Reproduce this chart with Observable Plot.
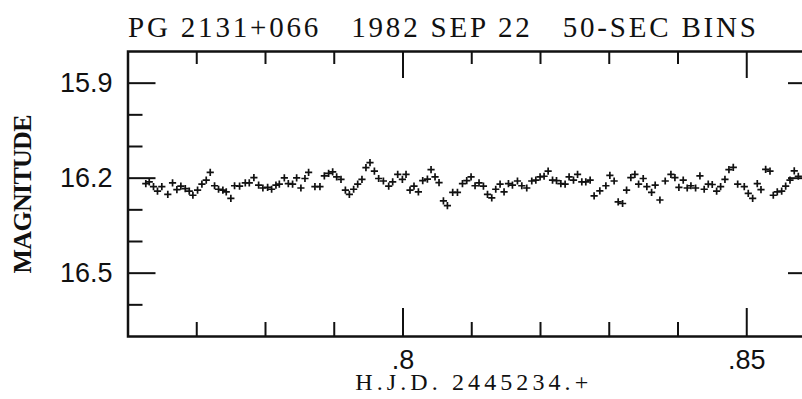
<!DOCTYPE html>
<html><head><meta charset="utf-8">
<script src="https://cdn.jsdelivr.net/npm/d3@7"></script>
<script src="https://cdn.jsdelivr.net/npm/@observablehq/plot@0.6"></script>
<style>
html,body{margin:0;padding:0;background:#fff;}
#wrap{width:802px;height:399px;overflow:hidden;position:relative;}
</style></head><body><div id="wrap"></div>
<script>
const title = "PG 2131+066   1982 SEP 22   50-SEC BINS";
const xLabel = "H.J.D. 2445234.+";
const yLabel = "MAGNITUDE";

const hjd = [
  0.76259, 0.76309, 0.76371, 0.76429, 0.76492, 0.76579, 0.76648, 0.76711, 0.76769, 0.76833,
  0.76891, 0.76944, 0.77012, 0.77075, 0.77138, 0.77196, 0.77259, 0.77317, 0.77380, 0.77429,
  0.77496, 0.77550, 0.77623, 0.77706, 0.77764, 0.77831, 0.77900, 0.77962,
  0.78031, 0.78089, 0.78152, 0.78201, 0.78274, 0.78332, 0.78394, 0.78453, 0.78515, 0.78574,
  0.78627, 0.78719, 0.78792, 0.78856, 0.78918, 0.78977, 0.79035, 0.79098, 0.79162, 0.79220,
  0.79282, 0.79341, 0.79403, 0.79461, 0.79520, 0.79584, 0.79646, 0.79715, 0.79792, 0.79850, 0.79923,
  0.79991, 0.80044, 0.80102, 0.80160, 0.80224, 0.80287, 0.80355, 0.80408, 0.80466, 0.80524,
  0.80588, 0.80646, 0.80723, 0.80792, 0.80865, 0.80927, 0.80990, 0.81048, 0.81106, 0.81170,
  0.81229, 0.81291, 0.81349, 0.81412, 0.81470, 0.81534, 0.81592, 0.81665, 0.81728, 0.81800, 0.81873,
  0.81932, 0.81994, 0.82052, 0.82111, 0.82175, 0.82233, 0.82296, 0.82358, 0.82416, 0.82480,
  0.82539, 0.82601, 0.82659, 0.82722, 0.82780, 0.82863, 0.82951, 0.83009, 0.83071, 0.83130,
  0.83194, 0.83252, 0.83314, 0.83373, 0.83427, 0.83494, 0.83547, 0.83616, 0.83668, 0.83737, 0.83814,
  0.83897, 0.83955, 0.84013, 0.84076, 0.84134, 0.84188, 0.84256, 0.84319, 0.84381, 0.84440,
  0.84498, 0.84562, 0.84620, 0.84683, 0.84741, 0.84804, 0.84868, 0.84964, 0.85022, 0.85086,
  0.85153, 0.85207, 0.85275, 0.85338, 0.85386, 0.85444, 0.85508, 0.85566, 0.85629, 0.85691, 0.85750
];
const mag = [
  16.217, 16.212, 16.227, 16.241, 16.227, 16.251, 16.215, 16.236, 16.225, 16.233,
  16.241, 16.254, 16.238, 16.219, 16.206, 16.182, 16.224, 16.235, 16.238, 16.243,
  16.264, 16.224, 16.225, 16.215, 16.215, 16.198, 16.222, 16.231,
  16.229, 16.235, 16.222, 16.219, 16.199, 16.217, 16.219, 16.199, 16.231, 16.201,
  16.182, 16.227, 16.227, 16.193, 16.185, 16.180, 16.196, 16.204, 16.238, 16.251,
  16.235, 16.219, 16.204, 16.167, 16.151, 16.178, 16.201, 16.209, 16.225, 16.212, 16.188,
  16.204, 16.188, 16.238, 16.225, 16.243, 16.208, 16.203, 16.173, 16.196, 16.214,
  16.272, 16.287, 16.245, 16.245, 16.217, 16.208, 16.196, 16.224, 16.215, 16.225,
  16.251, 16.262, 16.235, 16.219, 16.243, 16.217, 16.222, 16.209, 16.224, 16.231, 16.209,
  16.206, 16.196, 16.194, 16.178, 16.206, 16.208, 16.217, 16.219, 16.196, 16.206,
  16.188, 16.212, 16.212, 16.206, 16.256, 16.240, 16.224, 16.191, 16.209, 16.275,
  16.280, 16.238, 16.198, 16.188, 16.219, 16.201, 16.227, 16.245, 16.222, 16.269, 16.209,
  16.188, 16.198, 16.229, 16.206, 16.231, 16.224, 16.231, 16.193, 16.235, 16.219,
  16.220, 16.241, 16.227, 16.204, 16.173, 16.166, 16.219, 16.227, 16.248, 16.264,
  16.217, 16.236, 16.172, 16.178, 16.254, 16.243, 16.241, 16.225, 16.206, 16.177, 16.194
];

const xMajorTicks = [0.80, 0.85];
const xMinorTicks = [0.77, 0.78, 0.79, 0.81, 0.82, 0.83, 0.84];
const yMajorTicks = [15.9, 16.2, 16.5];
const yMinorTicks = [16.0, 16.1, 16.3, 16.4, 16.6];
const xDomain = [0.76, 0.86];
const yDomain = [16.7, 15.8];

const data = hjd.map((x, i) => ({hjd: x, mag: mag[i]}));

const plusSymbol = {
  draw(ctx, size) {
    const r = Math.sqrt(size / Math.PI);
    ctx.moveTo(-r, 0); ctx.lineTo(r, 0);
    ctx.moveTo(0, -r); ctx.lineTo(0, r);
  }
};

const ink = "#111";
const sans = "Liberation Sans, Arial, sans-serif";
const serif = "Liberation Serif, Times New Roman, serif";

const chart = Plot.plot({
  width: 830,
  height: 399,
  marginLeft: 127.5,
  marginRight: 15,
  marginTop: 51,
  marginBottom: 63,
  style: "max-width:none; background:#fff; color:#111; overflow:visible;",
  x: {domain: xDomain, label: null},
  y: {domain: yDomain, label: null},
  marks: [
    Plot.axisX(xMinorTicks, {anchor: "top", tickSize: -12, strokeWidth: 2, stroke: ink, fill: "none", label: null}),
    Plot.axisX(xMajorTicks, {anchor: "top", tickSize: -26, strokeWidth: 2, stroke: ink, fill: "none", label: null}),
    Plot.axisX(xMinorTicks, {anchor: "bottom", tickSize: -14, strokeWidth: 2, stroke: ink, fill: "none", label: null}),
    Plot.axisX(xMajorTicks, {anchor: "bottom", tickSize: -28, strokeWidth: 2, stroke: ink, fill: "none", label: null}),
    Plot.axisX(xMajorTicks, {anchor: "bottom", tickSize: 0, tickPadding: 13, fill: ink,
      tickFormat: d => String(d).replace(/^0/, ""), fontSize: 27, fontFamily: sans, label: null}),
    Plot.axisY(yMinorTicks, {anchor: "left", tickSize: -15, strokeWidth: 2, stroke: ink, fill: "none", label: null}),
    Plot.axisY(yMajorTicks, {anchor: "left", tickSize: -28, strokeWidth: 2, stroke: ink, fill: "none", label: null}),
    Plot.axisY(yMinorTicks, {anchor: "right", tickSize: -14, strokeWidth: 2, stroke: ink, fill: "none", label: null}),
    Plot.axisY(yMajorTicks, {anchor: "right", tickSize: -28, strokeWidth: 2, stroke: ink, fill: "none", label: null}),
    Plot.axisY(yMajorTicks, {anchor: "left", tickSize: 0, tickPadding: 15.5, fill: ink,
      tickFormat: d3.format(".1f"), fontSize: 27, fontFamily: sans, label: null}),
    Plot.frame({stroke: ink, strokeWidth: 2.5}),
    Plot.dot(data, {x: "hjd", y: "mag", symbol: plusSymbol, r: 3.6, stroke: ink, strokeWidth: 1.7, fill: "none"}),
    Plot.text([title], {frameAnchor: "top-left", dy: -15, lineAnchor: "bottom", textAnchor: "start",
      fontSize: 29, fontFamily: serif, fill: ink}),
    Plot.text([xLabel], {frameAnchor: "bottom", dy: 53, lineAnchor: "bottom", textAnchor: "middle",
      fontSize: 24, fontFamily: serif, fill: ink}),
    Plot.text([yLabel], {frameAnchor: "left", dx: -105, rotate: -90, lineAnchor: "middle", textAnchor: "middle",
      fontSize: 26, fontFamily: serif, fontWeight: "bold", fill: ink})
  ]
});
// stretch the plotter-style lettering to the widths of the original
const stretch = {[title]: 628, [xLabel]: 233, [yLabel]: 159};
for (const t of chart.querySelectorAll("text")) {
  const w = stretch[t.textContent];
  if (w) { t.setAttribute("textLength", w); t.setAttribute("lengthAdjust", "spacing"); }
}
document.getElementById("wrap").appendChild(chart);
</script></body></html>
